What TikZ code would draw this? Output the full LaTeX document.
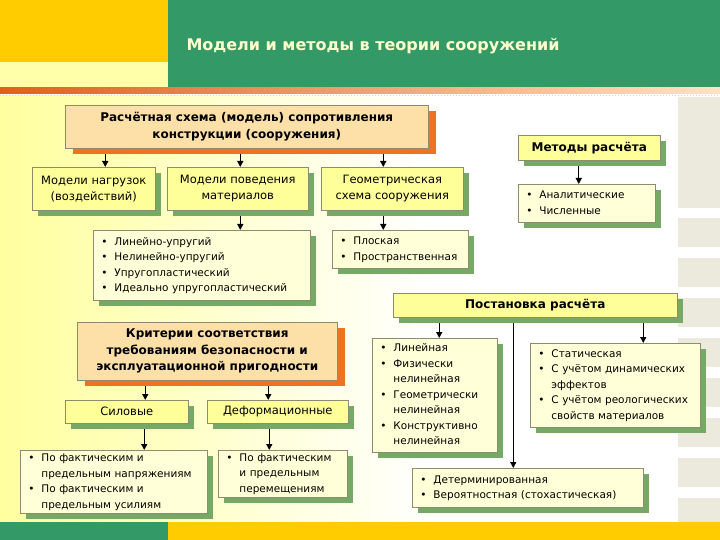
\documentclass[tikz,border=0pt]{standalone}
\usepackage{fontspec}
\setmainfont{DejaVu Sans}
\usetikzlibrary{shadows,arrows.meta,calc}
\definecolor{gold}{HTML}{FFCC00}
\definecolor{barg}{HTML}{339966}
\definecolor{paley}{HTML}{FFFFAA}
\definecolor{bgy}{HTML}{FFFF9E}
\definecolor{peach}{HTML}{FDE0A8}
\definecolor{orsh}{HTML}{EC7420}
\definecolor{boxy}{HTML}{FFFF99}
\definecolor{listy}{HTML}{FFFFD8}
\definecolor{grsh}{HTML}{76A866}
\definecolor{bord}{HTML}{8C8C70}
\definecolor{beige}{HTML}{ECEADD}
\definecolor{titc}{HTML}{FFFFCC}
\definecolor{orl}{HTML}{E0601A}
\definecolor{orr}{HTML}{FFE2C8}
\pgfdeclarelayer{bg}
\pgfdeclarelayer{edges}
\pgfsetlayers{bg,edges,main}
\newcommand{\bul}{\textbullet}
\begin{document}
\begin{tikzpicture}[x=1pt,y=-1pt,
  base/.style={draw=bord, line width=0.5pt, inner ysep=0pt, inner xsep=8pt, anchor=north west,
    font=\fontsize{10.5}{15.5}\selectfont},
  gsh/.style={copy shadow={shadow xshift=6pt, shadow yshift=-6pt, fill=grsh, draw=none}},
  osh/.style={copy shadow={shadow xshift=8pt, shadow yshift=-6pt, fill=orsh, draw=none}},
  hbox/.style={base, gsh, fill=boxy, align=center, font=\fontsize{11.5}{16}\selectfont},
  bbox/.style={hbox, font=\fontsize{12}{16}\selectfont\bfseries},
  lbox/.style={base, gsh, fill=listy, align=left},
  pbox/.style={base, osh, fill=peach, align=center, font=\fontsize{12}{16.5}\selectfont\bfseries},
  arr/.style={line width=1.3pt, -{Triangle[length=6pt,width=6pt]}}
]
\useasboundingbox (0,0) rectangle (720,540);
\begin{pgfonlayer}{bg}
  % body background
  \shade[left color=bgy, right color=white] (0,96) rectangle (430,522);
  \fill[white] (430,96) rectangle (720,522);
  % right column blocks
  \fill[beige] (678,97) rectangle (720,208);
  \foreach \yy in {218,258,...,498} {\fill[beige] (678,\yy) rectangle (720,\yy+29);}
  % header
  \fill[gold] (0,0) rectangle (168,62);
  \fill[paley] (0,62) rectangle (168,88);
  \fill[barg] (168,0) rectangle (720,88);
  \shade[left color=orl, right color=orr] (0,88) rectangle (720,94);
  \draw[orr!80!orange, dotted, line width=1pt] (0,95.5) -- (720,95.5);
  % footer
  \fill[barg] (0,522) rectangle (168,540);
  \fill[gold] (168,522) rectangle (720,540);
\end{pgfonlayer}

\node[text=titc, font=\fontsize{16}{18}\selectfont\bfseries] (title) at (373,46) {Модели и методы в теории сооружений};

\node[pbox, minimum width=363pt, minimum height=43pt] (schema) at (65,105)
  {Расчётная схема (модель) сопротивления\\конструкции (сооружения)};
\node[bbox, minimum width=142pt, minimum height=25pt] (methods) at (518,135) {Методы расчёта};

\node[hbox, minimum width=123pt, minimum height=43pt] (loads) at (32,167) {Модели нагрузок\\(воздействий)};
\node[hbox, minimum width=141pt, minimum height=43pt] (behav) at (167,167) {Модели поведения\\материалов};
\node[hbox, minimum width=142pt, minimum height=43pt] (geom) at (321,167) {Геометрическая\\схема сооружения};

\node[lbox, text width=121pt, minimum height=38pt] (mlist) at (518,184)
  {\begin{tabular}{@{}l@{\hspace{7pt}}l@{}}\bul & Аналитические\\ \bul & Численные\end{tabular}};
\node[lbox, text width=201pt, minimum height=70pt] (matlist) at (93,230)
  {\begin{tabular}{@{}l@{\hspace{7pt}}l@{}}\bul & Линейно-упругий\\ \bul & Нелинейно-упругий\\ \bul & Упругопластический\\ \bul & Идеально упругопластический\end{tabular}};
\node[lbox, text width=120pt, minimum height=38pt] (geolist) at (332,230)
  {\begin{tabular}{@{}l@{\hspace{7pt}}l@{}}\bul & Плоская\\ \bul & Пространственная\end{tabular}};

\node[bbox, minimum width=284pt, minimum height=24pt] (post) at (393,293) {Постановка расчёта};

\node[pbox, minimum width=260pt, minimum height=58pt] (crit) at (77,322)
  {Критерии соответствия\\требованиям безопасности и\\эксплуатационной пригодности};
\node[hbox, minimum width=123pt, minimum height=23pt] (sil) at (65,400) {Силовые};
\node[hbox, minimum width=141pt, minimum height=23pt] (def) at (207,400) {Деформационные};

\node[lbox, text width=171pt, minimum height=63pt] (sillist) at (20,450)
  {\begin{tabular}{@{}l@{\hspace{7pt}}l@{}}\bul & По фактическим и\\ & предельным напряжениям\\ \bul & По фактическим и\\ & предельным усилиям\end{tabular}};
\node[lbox, text width=113pt, minimum height=40pt] (deflist) at (218,450)
  {\begin{tabular}{@{}l@{\hspace{7pt}}l@{}}\bul & По фактическим\\ & и предельным\\ & перемещениям\end{tabular}};

\node[lbox, text width=109pt, minimum height=114pt] (postL) at (372,338)
  {\begin{tabular}{@{}l@{\hspace{7pt}}l@{}}\bul & Линейная\\ \bul & Физически\\ & нелинейная\\ \bul & Геометрически\\ & нелинейная\\ \bul & Конструктивно\\ & нелинейная\end{tabular}};
\node[lbox, text width=154pt, minimum height=84pt] (postR) at (530,343)
  {\begin{tabular}{@{}l@{\hspace{7pt}}l@{}}\bul & Статическая\\ \bul & С учётом динамических\\ & эффектов\\ \bul & С учётом реологических\\ & свойств материалов\end{tabular}};
\node[lbox, text width=215pt, minimum height=39pt] (postB) at (412,468)
  {\begin{tabular}{@{}l@{\hspace{7pt}}l@{}}\bul & Детерминированная\\ \bul & Вероятностная (стохастическая)\end{tabular}};

\coordinate (a1) at ([xshift=11.5pt]loads.north);
\coordinate (a2) at ([xshift=2.5pt]behav.north);
\coordinate (a3) at ([xshift=-9pt]geom.north);
\coordinate (a4) at ([xshift=-8pt]mlist.north);
\coordinate (a5) at ([xshift=4.5pt]postL.north);
\coordinate (a6) at ([xshift=-14.5pt]postB.north);
\coordinate (a7) at ([xshift=28pt]postR.north);
\coordinate (a8) at ([xshift=18.5pt]sil.north);
\coordinate (a9) at ([xshift=-9.5pt]def.north);
\coordinate (a10) at ([xshift=30.5pt]sillist.north);
\coordinate (a11) at ([xshift=-13.5pt]deflist.north);
\coordinate (a12) at (a2 |- matlist.north);
\coordinate (a13) at (a3 |- geolist.north);

\begin{pgfonlayer}{edges}
  \draw[arr] (a1 |- schema.south) -- (a1);
  \draw[arr] (a2 |- schema.south) -- (a2);
  \draw[arr] (a3 |- schema.south) -- (a3);
  \draw[arr] (a4 |- methods.south) -- (a4);
  \draw[arr] (a2 |- behav.south) -- (a12);
  \draw[arr] (a3 |- geom.south) -- (a13);
  \draw[arr] (a5 |- post.south) -- (a5);
  \draw[arr] (a6 |- post.south) -- (a6);
  \draw[arr] (a7 |- post.south) -- (a7);
  \draw[arr] (a8 |- crit.south) -- (a8);
  \draw[arr] (a9 |- crit.south) -- (a9);
  \draw[arr] (a10 |- sil.south) -- (a10);
  \draw[arr] (a11 |- def.south) -- (a11);
\end{pgfonlayer}
\end{tikzpicture}
\end{document}
